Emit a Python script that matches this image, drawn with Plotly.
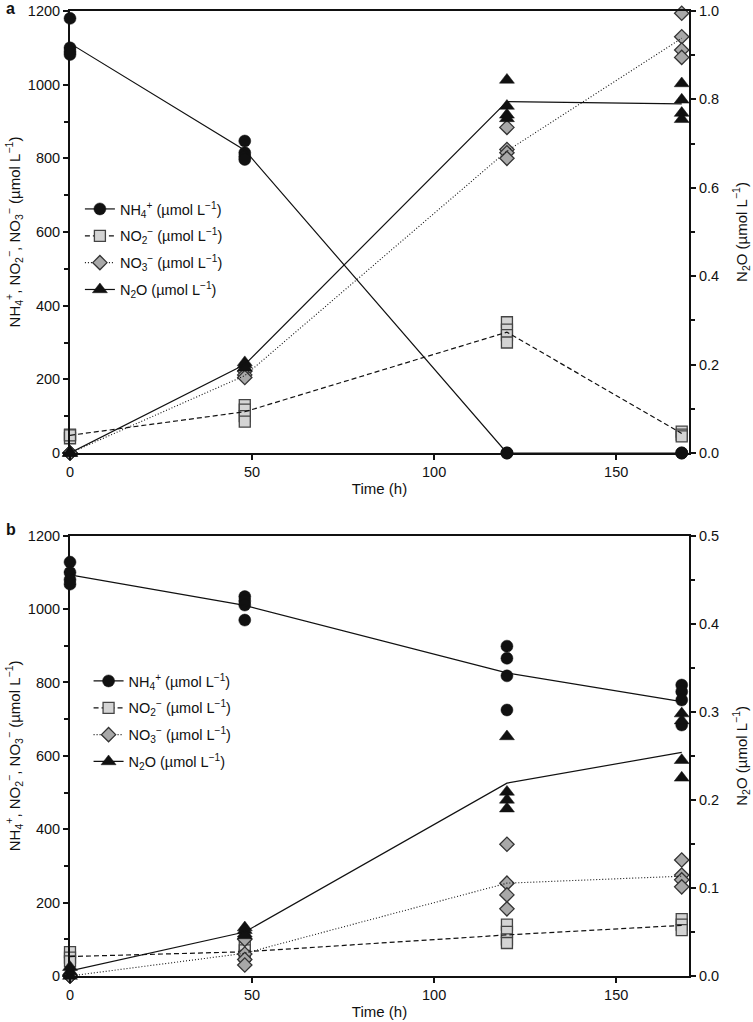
import plotly.graph_objects as go
from plotly.subplots import make_subplots

FONT = "Liberation Sans, Arial, Helvetica, sans-serif"

# time points (h)
t = [0, 48, 120, 168]

# ---------- Panel a : replicate values ----------
a_nh4_x = [0, 0, 0, 0, 48, 48, 48, 48, 120, 120, 120, 168, 168, 168]
a_nh4_y = [1180, 1100, 1090, 1082, 847, 815, 805, 797, 0, 0, 0, 0, 0, 0]
a_no2_x = [0, 0, 0, 48, 48, 48, 48, 120, 120, 120, 120, 168, 168, 168]
a_no2_y = [40, 50, 48, 130, 118, 100, 85, 355, 335, 320, 300, 58, 50, 45]
a_no3_x = [0, 0, 0, 48, 48, 48, 120, 120, 120, 120, 168, 168, 168, 168]
a_no3_y = [0, 0, 0, 222, 212, 205, 884, 824, 815, 800, 1194, 1130, 1094, 1074]
a_n2o_x = [0, 0, 0, 48, 48, 48, 120, 120, 120, 120, 168, 168, 168, 168]
a_n2o_y = [0, 0, 0, 0.205, 0.2, 0.193, 0.844, 0.785, 0.765, 0.757, 0.836, 0.799, 0.769, 0.755]
# panel a : means (lines)
a_nh4_mean = [1112, 822, 0, 0]
a_no2_mean = [48, 112, 328, 53]
a_no3_mean = [0, 210, 820, 1126]
a_n2o_mean = [0.0, 0.2, 0.795, 0.79]

# ---------- Panel b : replicate values ----------
b_nh4_x = [0, 0, 0, 0, 48, 48, 48, 48, 120, 120, 120, 120, 168, 168, 168, 168]
b_nh4_y = [1128, 1100, 1080, 1068, 1034, 1022, 1011, 970, 899, 866, 818, 725, 793, 775, 752, 684]
b_no2_x = [0, 0, 0, 48, 48, 48, 120, 120, 120, 120, 168, 168, 168]
b_no2_y = [65, 50, 40, 80, 70, 55, 140, 120, 100, 90, 155, 140, 125]
b_no3_x = [0, 0, 0, 48, 48, 48, 48, 120, 120, 120, 120, 168, 168, 168, 168]
b_no3_y = [0, 0, 0, 100, 60, 45, 30, 359, 253, 221, 183, 316, 275, 262, 243]
b_n2o_x = [0, 0, 0, 48, 48, 48, 48, 120, 120, 120, 120, 168, 168, 168, 168]
b_n2o_y = [0.0, 0.005, 0.01, 0.055, 0.052, 0.048, 0.046, 0.272, 0.209, 0.2, 0.19, 0.298, 0.29, 0.245, 0.225]
# panel b : means (lines)
b_nh4_mean = [1093, 1010, 826, 748]
b_no2_mean = [53, 66, 112, 138]
b_no3_mean = [0, 62, 253, 272]
b_n2o_mean = [0.0057, 0.05, 0.219, 0.254]

names = [
    "NH<sub>4</sub><sup>+</sup> (µmol L<sup>−1</sup>)",
    "NO<sub>2</sub><sup>−</sup> (µmol L<sup>−1</sup>)",
    "NO<sub>3</sub><sup>−</sup> (µmol L<sup>−1</sup>)",
    "N<sub>2</sub>O (µmol L<sup>−1</sup>)",
]

markers = [
    dict(symbol="circle", size=12, color="#111111", line=dict(color="#111111", width=0.5)),
    dict(symbol="square", size=11, color="#d4d4d4", line=dict(color="#444444", width=1.3)),
    dict(symbol="diamond", size=11, color="#a8a8a8", line=dict(color="#333333", width=1.3)),
    dict(symbol="triangle-up", size=13, color="#111111", line=dict(color="#111111", width=0.5)),
]
lines = [
    dict(color="#111111", width=1.2, dash="solid"),
    dict(color="#111111", width=1.2, dash="5px,3px"),
    dict(color="#111111", width=1.1, dash="1px,2px"),
    dict(color="#111111", width=1.2, dash="solid"),
]

fig = make_subplots(rows=2, cols=1, specs=[[{"secondary_y": True}], [{"secondary_y": True}]],
                    vertical_spacing=0.085)

panels = [
    (1, "legend", [(a_nh4_x, a_nh4_y, a_nh4_mean), (a_no2_x, a_no2_y, a_no2_mean),
                   (a_no3_x, a_no3_y, a_no3_mean), (a_n2o_x, a_n2o_y, a_n2o_mean)]),
    (2, "legend2", [(b_nh4_x, b_nh4_y, b_nh4_mean), (b_no2_x, b_no2_y, b_no2_mean),
                    (b_no3_x, b_no3_y, b_no3_mean), (b_n2o_x, b_n2o_y, b_n2o_mean)]),
]

for row, leg, series in panels:
    for i, (xs, ys, mean) in enumerate(series):
        sec = (i == 3)
        fig.add_trace(go.Scatter(x=xs, y=ys, mode="markers", marker=markers[i],
                                 showlegend=False, cliponaxis=False, hoverinfo="skip"),
                      row=row, col=1, secondary_y=sec)
        fig.add_trace(go.Scatter(x=t, y=mean, mode="lines", line=lines[i],
                                 showlegend=False, cliponaxis=False, hoverinfo="skip"),
                      row=row, col=1, secondary_y=sec)
        # legend entry (no data)
        fig.add_trace(go.Scatter(x=[None], y=[None], mode="lines+markers", name=names[i],
                                 marker=markers[i], line=lines[i], legend=leg,
                                 legendgroup=f"{leg}_{i}"),
                      row=row, col=1, secondary_y=sec)

TICKFONT = dict(family=FONT, size=14.5, color="#111111")
TITLEFONT = dict(family=FONT, size=15, color="#111111")
LEGFONT = dict(family=FONT, size=14.5, color="#111111")
axis_common = dict(showline=True, linewidth=2, linecolor="#111111", ticks="outside",
                   ticklen=5, tickwidth=1.5, tickcolor="#111111", showgrid=False,
                   zeroline=False, tickfont=TICKFONT, automargin=False,
                   ticklabeloverflow="allow")

ytitle_left = ("NH<sub>4</sub><sup>+</sup>, NO<sub>2</sub><sup>−</sup>, "
               "NO<sub>3</sub><sup>−</sup> (µmol L<sup>−1</sup>)")
ytitle_right = "N<sub>2</sub>O (µmol L<sup>−1</sup>)"

for row in (1, 2):
    fig.update_xaxes(range=[0, 170], tickvals=[0, 50, 100, 150], mirror=True,
                     domain=[0, 1],
                     title=dict(text="Time (h)", font=TITLEFONT, standoff=4),
                     row=row, col=1, **axis_common)
    fig.update_yaxes(range=[0, 1200], dtick=200, secondary_y=False,
                     minor=dict(dtick=100, ticks="outside", ticklen=4, tickwidth=1.5,
                                tickcolor="#111111"),
                     title=dict(text=ytitle_left, font=TITLEFONT, standoff=4),
                     row=row, col=1, **axis_common)

fig.update_yaxes(range=[0, 1.0], dtick=0.2, tickformat=".1f", secondary_y=True,
                 minor=dict(dtick=0.1, ticks="outside", ticklen=4, tickwidth=1.5, tickcolor="#111111"),
                 title=dict(text=ytitle_right, font=TITLEFONT, standoff=18),
                 row=1, col=1, **axis_common)
fig.update_yaxes(range=[0, 0.5], dtick=0.1, tickformat=".1f", secondary_y=True,
                 minor=dict(dtick=0.05, ticks="outside", ticklen=4, tickwidth=1.5, tickcolor="#111111"),
                 title=dict(text=ytitle_right, font=TITLEFONT, standoff=18),
                 row=2, col=1, **axis_common)

W, H = 753, 1022
mt, mb, ml, mr = 11, 46, 70, 64
ph = H - mt - mb
fig.update_layout(
    width=W, height=H,
    margin=dict(l=ml, r=mr, t=mt, b=mb, autoexpand=False),
    paper_bgcolor="white", plot_bgcolor="white",
    font=dict(family=FONT, size=13, color="#111111"),
    showlegend=True,
    legend=dict(x=0.016, y=(976 - 193) / ph, xanchor="left", yanchor="top",
                bgcolor="rgba(0,0,0,0)", font=LEGFONT,
                itemwidth=30, tracegroupgap=5),
    legend2=dict(x=0.03, y=(976 - 665) / ph, xanchor="left", yanchor="top",
                 bgcolor="rgba(0,0,0,0)", font=LEGFONT,
                 itemwidth=30, tracegroupgap=5),
)

fig.layout.yaxis.domain = [(976 - 453) / ph, 1.0]
fig.layout.yaxis2.domain = [(976 - 453) / ph, 1.0]
fig.layout.yaxis3.domain = [0.0, (976 - 535.7) / ph]
fig.layout.yaxis4.domain = [0.0, (976 - 535.7) / ph]

fig.add_annotation(text="<b>a</b>", xref="paper", yref="paper", x=-0.107,
                   y=(976 - 9) / ph, xanchor="left", yanchor="middle", showarrow=False,
                   font=dict(family=FONT, size=16, color="#111111"))
fig.add_annotation(text="<b>b</b>", xref="paper", yref="paper", x=-0.107,
                   y=(976 - 529) / ph, xanchor="left", yanchor="middle", showarrow=False,
                   font=dict(family=FONT, size=16, color="#111111"))

fig.write_html("out.html",
               config={"displayModeBar": False},
               post_script="document.body.style.margin='0';document.body.style.overflow='hidden';")
